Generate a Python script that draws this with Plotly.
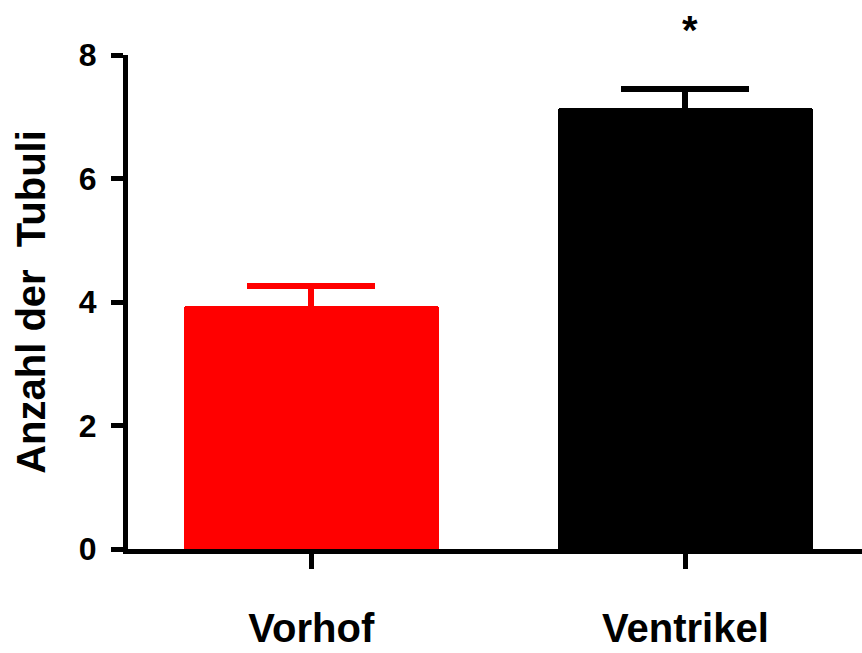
import plotly.graph_objects as go

categories = ["Vorhof", "Ventrikel"]
means = [3.94, 7.14]
sem = [0.32, 0.31]
bar_colors = ["#ff0000", "#000000"]
y_ticks = [0, 2, 4, 6, 8]
y_title = "Anzahl der\u00a0 Tubuli"
significance = "*"

FONT = "Liberation Sans, Arial, sans-serif"

fig = go.Figure()
for cat, m, e, c in zip(categories, means, sem, bar_colors):
    fig.add_trace(go.Bar(
        x=[cat], y=[m],
        width=0.68,
        marker=dict(color=c, line=dict(width=0), cornerradius=3),
        error_y=dict(type="data", array=[e], symmetric=False, arrayminus=[0.2],
                     color=c, thickness=6, width=64),
        showlegend=False,
    ))

fig.add_annotation(x=categories[1], y=1.05, xref="x", yref="paper",
                   text=significance, showarrow=False,
                   font=dict(family=FONT, size=40, color="black", weight="bold"),
                   xshift=5, yanchor="middle")

fig.update_layout(
    width=862, height=653,
    margin=dict(l=128, r=0, t=55, b=104, pad=0),
    plot_bgcolor="white", paper_bgcolor="white",
    bargap=0,
)
fig.update_xaxes(
    range=[-0.49, 1.472],
    automargin=False,
    showline=True, linecolor="black", linewidth=5,
    ticks="outside", ticklen=15, tickwidth=5, tickcolor="black",
    tickfont=dict(family=FONT, size=40, color="black", weight="bold"),
    ticklabelstandoff=25,
    showgrid=False, zeroline=False,
)
fig.update_yaxes(
    range=[0, 8],
    automargin=False,
    tickvals=y_ticks,
    showline=True, linecolor="black", linewidth=5,
    ticks="outside", ticklen=12, tickwidth=5, tickcolor="black",
    tickfont=dict(family=FONT, size=32, color="black", weight="bold"),
    ticklabelstandoff=8,
    showgrid=False, zeroline=False,
    title=dict(text=y_title, font=dict(family=FONT, size=40, color="black", weight="bold"), standoff=22),
)

fig.write_html(
    "out.html",
    config={"displayModeBar": False},
    post_script="document.body.style.margin='0';document.body.style.overflow='hidden';",
)
